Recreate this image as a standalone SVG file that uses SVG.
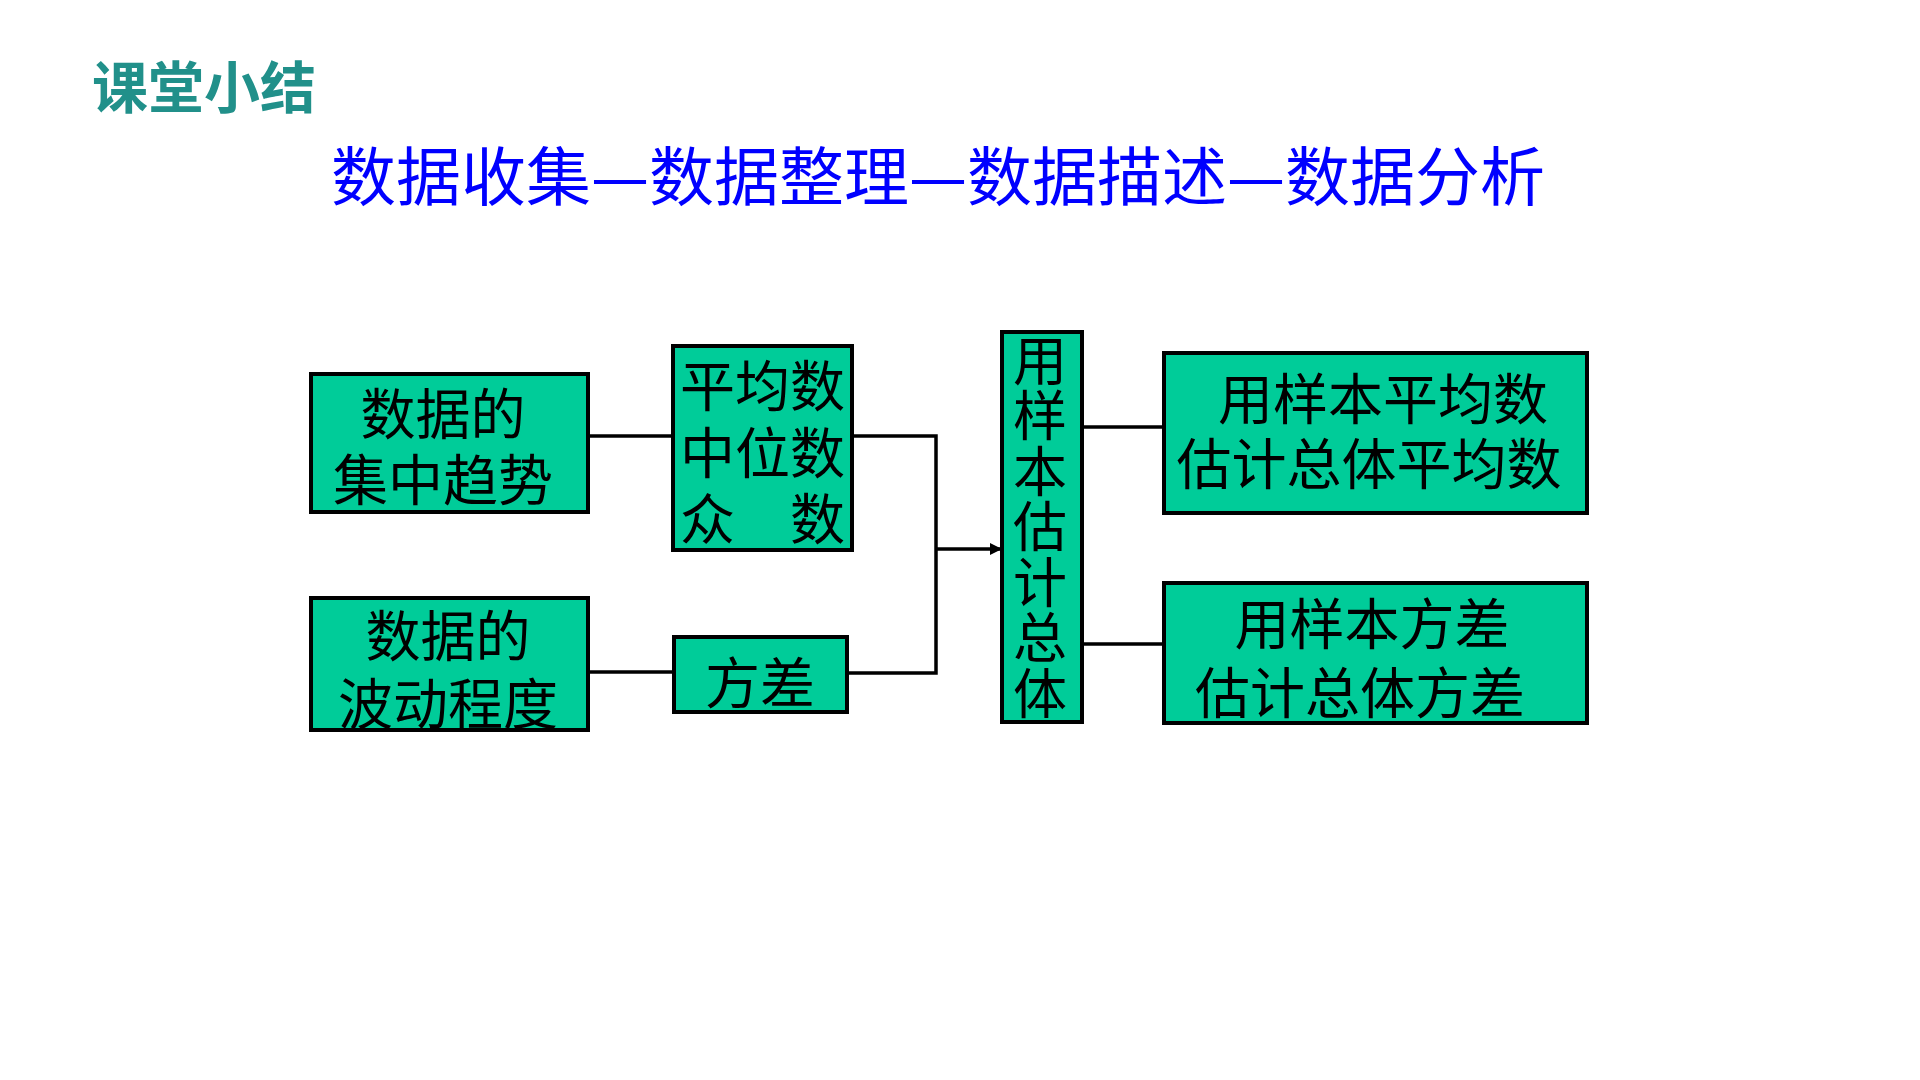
<svg xmlns="http://www.w3.org/2000/svg" width="1920" height="1080" viewBox="0 0 1920 1080">
<style>
.box{fill:#00CC99;stroke:#000;stroke-width:4}
.t{font-family:"Noto Sans CJK SC","Noto Sans",sans-serif;font-size:55px;fill:#000}
.c{text-anchor:middle}
.ln{stroke:#000;stroke-width:3.5;fill:none}
</style>
<defs>
<marker id="arr" markerWidth="12" markerHeight="12" refX="11" refY="6" orient="auto" markerUnits="userSpaceOnUse">
<path d="M0,0 L12,6 L0,12 Z" fill="#000"/>
</marker>
</defs>
<rect width="1920" height="1080" fill="#fff"/>
<text x="92" y="108" font-family="'Noto Sans CJK SC',sans-serif" font-size="56" font-weight="bold" fill="#21908A">课堂小结</text>
<text x="331" y="200" font-family="'Noto Sans CJK SC',sans-serif" font-size="64" fill="#0000FF" textLength="1214" lengthAdjust="spacingAndGlyphs">数据收集—数据整理—数据描述—数据分析</text>
<g id="connectors">
<path class="ln" d="M588,436 H673"/>
<path class="ln" d="M852,436 H936 V673 H847"/>
<path class="ln" d="M588,672 H673"/>
<path class="ln" d="M936,549 H1001" marker-end="url(#arr)"/>
<path class="ln" d="M1082,427 H1164"/>
<path class="ln" d="M1082,644 H1164"/>
</g>
<g id="node-a">
<rect class="box" x="311" y="374" width="277" height="138"/>
<text class="t c"><tspan x="443" y="434">数据的</tspan><tspan x="443" y="500">集中趋势</tspan></text>
</g>
<g id="node-b">
<rect class="box" x="673" y="346" width="179" height="204"/>
<text class="t"><tspan x="680" y="406">平均数</tspan><tspan x="680" y="473">中位数</tspan><tspan x="680" y="539">众　数</tspan></text>
</g>
<g id="node-c">
<rect class="box" x="311" y="598" width="277" height="132"/>
<text class="t c"><tspan x="448" y="656">数据的</tspan><tspan x="448" y="724">波动程度</tspan></text>
</g>
<g id="node-d">
<rect class="box" x="674" y="637" width="173" height="75"/>
<text class="t c" x="760" y="703">方差</text>
</g>
<g id="node-e">
<rect class="box" x="1002" y="332" width="80" height="390"/>
<text class="t" x="1040" y="333" writing-mode="vertical-rl" style="writing-mode:vertical-rl;font-size:54px" letter-spacing="1.5">用样本估计总体</text>
</g>
<g id="node-f">
<rect class="box" x="1164" y="353" width="423" height="160"/>
<text class="t c"><tspan x="1383" y="419">用样本平均数</tspan><tspan x="1369" y="484">估计总体平均数</tspan></text>
</g>
<g id="node-g">
<rect class="box" x="1164" y="583" width="423" height="140"/>
<text class="t c"><tspan x="1372" y="644">用样本方差</tspan><tspan x="1360" y="713">估计总体方差</tspan></text>
</g>
</svg>
